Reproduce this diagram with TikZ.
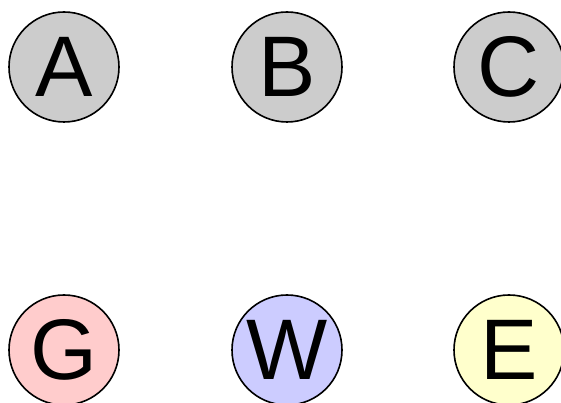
\documentclass[tikz,border=0pt]{standalone}
\usepackage{fontspec}
\setmainfont{Liberation Sans}
\definecolor{cgray}{HTML}{CCCCCC}
\definecolor{cpink}{HTML}{FFCCCC}
\definecolor{cblue}{HTML}{CCCCFF}
\definecolor{cyel}{HTML}{FFFFCC}
\begin{document}
\begin{tikzpicture}[x=1pt,y=1pt,
  vert/.style={circle,draw=black,line width=1.6pt,minimum size=110pt,inner sep=0pt,font=\fontsize{86}{86}\selectfont}]
\useasboundingbox (0,0) rectangle (561,403);
\begin{scope}
\clip (0,0) rectangle (561,403);
\node[vert,fill=cgray] (A) at (64,336) {A};
\node[vert,fill=cgray] (B) at (287,336) {B};
\node[vert,fill=cgray] (C) at (509,336) {C};
\node[vert,fill=cpink] (G) at (64,53) {G};
\node[vert,fill=cblue] (W) at (287,53) {W};
\node[vert,fill=cyel] (E) at (509,53) {E};
\end{scope}
\end{tikzpicture}
\end{document}
